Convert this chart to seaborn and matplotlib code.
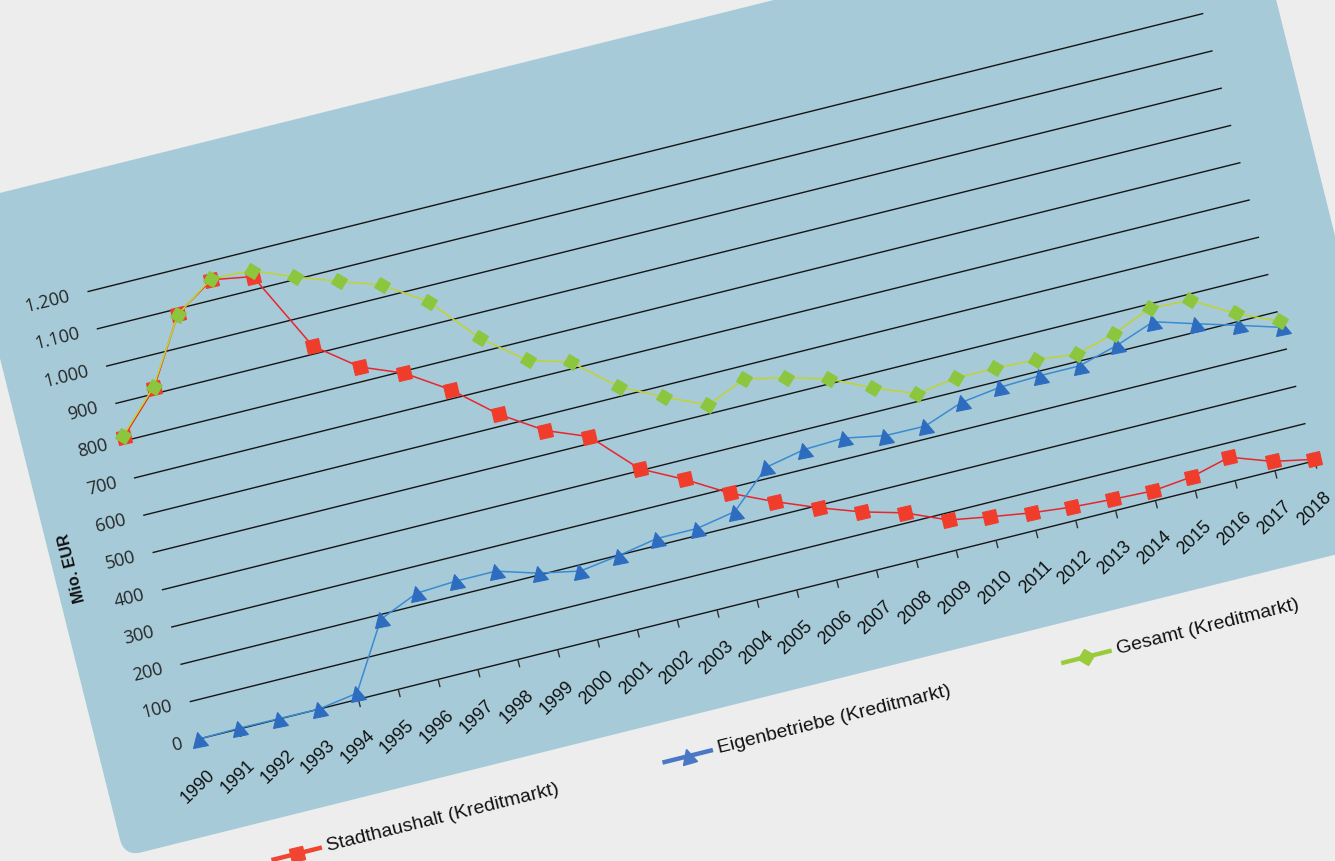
import pandas as pd
import matplotlib
matplotlib.use('Agg')
import matplotlib.pyplot as plt
import seaborn as sns
from matplotlib.transforms import Affine2D
from matplotlib.markers import MarkerStyle
from matplotlib.patches import FancyBboxPatch

# ---------- data (Mio. EUR) ----------
years = list(range(1990, 2019))
stadthaushalt = [810, 914, 1086, 1152, 1134, 921, 838, 795, 724, 631, 561, 518, 405, 350, 286,
                 237, 194, 156, 127, 81, 63, 47, 36, 30, 26, 37, 63, 25, 4]
eigenbetriebe = [0, 2, 1, 0, 16, 188, 231, 237, 237, 205, 184, 199, 218, 218, 237,
                 329, 350, 354, 334, 333, 370, 384, 388, 388, 416, 453, 421, 390, 358]
gesamt = [814, 918, 1085, 1155, 1150, 1106, 1068, 1031, 960, 835, 749, 718, 625, 571, 523,
          566, 543, 513, 462, 420, 435, 435, 431, 419, 448, 489, 484, 422, 374]
series_names = ['Stadthaushalt (Kreditmarkt)', 'Eigenbetriebe (Kreditmarkt)', 'Gesamt (Kreditmarkt)']
y_ticks = list(range(0, 1300, 100))
y_tick_labels = ['0', '100', '200', '300', '400', '500', '600', '700', '800', '900',
                 '1.000', '1.100', '1.200']

df = pd.DataFrame({
    'Jahr': years * 3,
    'Wert': stadthaushalt + eigenbetriebe + gesamt,
    'Serie': [series_names[0]] * 29 + [series_names[1]] * 29 + [series_names[2]] * 29,
})

# line colour, marker colour, marker, marker size, legend colour
styles = {
    series_names[0]: ('#e8262e', '#f03c2b', 's', 9.5, '#f04530'),
    series_names[1]: ('#3a8bd4', '#2d6cbf', '^', 11, '#4a78c6'),
    series_names[2]: ('#c2d42c', '#8cc63e', 'D', 8.5, '#9acb3c'),
}

# ---------- geometry of the tilted chart ----------
W, H = 1335, 861
OX, OY = 199, 122      # pixel of (1990, 0)
AW, AH = 1150, 461     # axis length along x / y
ANGLE = 14

sns.set_style('white')
plt.rcParams['font.family'] = ['Liberation Sans', 'DejaVu Sans']

fig = plt.figure(figsize=(W / 100, H / 100), dpi=100, facecolor='#ededed')
ax = fig.add_axes([OX / W, OY / H, AW / W, AH / H])

rot = Affine2D().rotate_deg_around(OX, OY, ANGLE)
frame = Affine2D().translate(OX, OY) + rot   # pixel offsets inside the tilted frame


def tilt(artist):
    artist.set_transform(artist.get_transform() + rot)
    artist.set_clip_on(False)


# panel
panel = FancyBboxPatch((-101, -96), 1325, 674, boxstyle='round,pad=0,rounding_size=18',
                       transform=frame, facecolor='#a6cad8', edgecolor='none', zorder=-1)
fig.add_artist(panel)

# grid and x ticks
grid = ax.hlines(y_ticks, 1990, 2018, colors='#151515', lw=1.0, zorder=1)
tilt(grid)
tick_marks = ax.vlines(years, -21, 0, colors='#333333', lw=1.0, zorder=1)
tilt(tick_marks)

# series
for name in series_names:
    lc, mc, mk, ms, _ = styles[name]
    sns.lineplot(data=df[df['Serie'] == name], x='Jahr', y='Wert', ax=ax, color=lc,
                 lw=1.1, errorbar=None, legend=False, zorder=3)
    line = ax.lines[-1]
    line.set_marker(MarkerStyle(mk, transform=Affine2D().rotate_deg(ANGLE)))
    line.set_markersize(ms)
    line.set_markerfacecolor(mc)
    line.set_markeredgecolor(mc)
    tilt(line)

ax.set_xlim(1990, 2018)
ax.set_ylim(0, 1200)
ax.axis('off')

# y tick labels
for v, lab in zip(y_ticks, y_tick_labels):
    t = ax.text(1990, v, lab, transform=ax.transData + Affine2D().translate(-18, 0) + rot,
                rotation=ANGLE, rotation_mode='anchor', ha='right', va='center',
                fontsize=13, color='#262626', family=['Open Sans', 'DejaVu Sans'])
    t.set_clip_on(False)

# x tick labels
for yr in years:
    t = ax.text(yr, 0, str(yr), transform=ax.transData + Affine2D().translate(5, -36) + rot,
                rotation=44, rotation_mode='anchor', ha='right', va='center',
                fontsize=13, color='#111111')
    t.set_clip_on(False)

# axis title
fig.text(-82, 197, 'Mio. EUR', transform=frame, rotation=90 + ANGLE, rotation_mode='anchor',
         ha='center', va='center', fontsize=11.5, fontweight='bold', color='#111111')

# legend
legend_x = [41, 444, 855]
legend_y = -135
for name, x0 in zip(series_names, legend_x):
    _, _, mk, ms, lgc = styles[name]
    fig.add_artist(plt.Line2D([x0, x0 + 52], [legend_y, legend_y], transform=frame,
                              color=lgc, lw=3.2, solid_capstyle='butt'))
    fig.add_artist(plt.Line2D([x0 + 26], [legend_y], transform=frame, lw=0,
                              marker=MarkerStyle(mk, transform=Affine2D().rotate_deg(ANGLE)),
                              markersize=ms * 0.95, color=lgc))
    fig.text(x0 + 57, legend_y, name, transform=frame, rotation=ANGLE, rotation_mode='anchor',
             ha='left', va='center', fontsize=14, color='#111111')

fig.savefig('out.png', dpi=100, facecolor=fig.get_facecolor())
